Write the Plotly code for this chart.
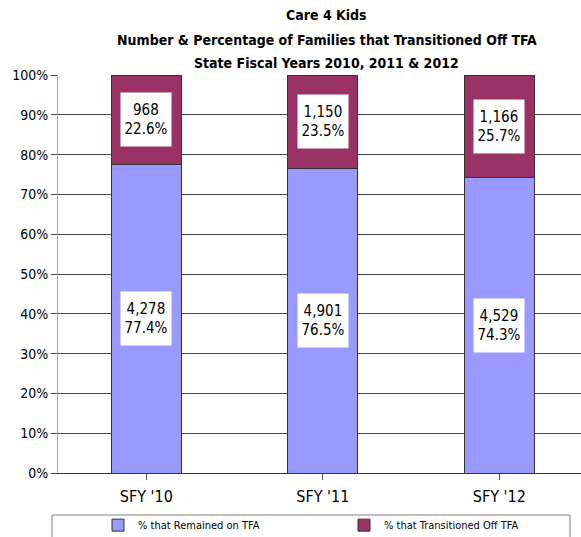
import plotly.graph_objects as go

categories = ["SFY '10", "SFY '11", "SFY '12"]
remained_pct = [77.4, 76.5, 74.3]
transitioned_pct = [22.6, 23.5, 25.7]
remained_cnt = ["4,278", "4,901", "4,529"]
transitioned_cnt = ["968", "1,150", "1,166"]
series_names = ["% that Remained on TFA", "% that Transitioned Off TFA"]
y_ticks = [0, 10, 20, 30, 40, 50, 60, 70, 80, 90, 100]
y_tick_text = [f"{v}%" for v in y_ticks]
title_lines = ["Care 4 Kids",
               "Number & Percentage of Families that Transitioned Off TFA",
               "State Fiscal Years 2010, 2011 & 2012"]

FONT = "DejaVu Sans Condensed, Liberation Sans Narrow, Arial Narrow, Liberation Sans, sans-serif"
xs = [0, 1, 2]

fig = go.Figure()
fig.add_trace(go.Bar(x=xs, y=remained_pct, name=series_names[0], width=0.397,
                     marker=dict(color="#9999FF", line=dict(color="#333333", width=1))))
fig.add_trace(go.Bar(x=xs, y=transitioned_pct, name=series_names[1], width=0.397,
                     marker=dict(color="#993366", line=dict(color="#333333", width=1))))

anns = []
box = dict(showarrow=False, bgcolor="white", borderpad=2, width=46, height=49,
           font=dict(size=15, color="black", family=FONT), xref="x", yref="y")
for i in range(3):
    anns.append(dict(x=xs[i], y=remained_pct[i] / 2,
                     text=f"{remained_cnt[i]}<br>{remained_pct[i]}%", **box))
    anns.append(dict(x=xs[i], y=remained_pct[i] + transitioned_pct[i] / 2,
                     text=f"{transitioned_cnt[i]}<br>{transitioned_pct[i]}%", **box))

title_y = [1.1508, 1.0879, 1.0302]
for line, ty in zip(title_lines, title_y):
    anns.append(dict(x=0.514, y=ty, xref="paper", yref="paper", xanchor="center", yanchor="middle",
                     text=f"<b>{line}</b>", showarrow=False,
                     font=dict(size=14, family=FONT, color="black")))

fig.update_layout(
    barmode="stack",
    width=581, height=537,
    margin=dict(l=58, r=0, t=75, b=64, autoexpand=False),
    paper_bgcolor="white", plot_bgcolor="white",
    font=dict(family=FONT, color="black"),
    xaxis=dict(range=[-0.5, 2.463], tickvals=xs, ticktext=categories, automargin=False,
               tickfont=dict(size=16, family=FONT), showline=True, linecolor="#333333",
               ticks="outside", ticklen=6, tickcolor="#555555", tickson="boundaries",
               ticklabelstandoff=3, showgrid=False),
    yaxis=dict(range=[0, 100], tickvals=y_ticks, ticktext=y_tick_text, automargin=False,
               tickfont=dict(size=14, family=FONT),
               showline=True, linecolor="#A6A6A6", ticks="outside", ticklen=6, tickcolor="#444444",
               showgrid=True, gridcolor="#444444", gridwidth=1, zeroline=False),
    showlegend=True,
    legend=dict(orientation="h", x=0.0765, xanchor="left", y=-0.131, yanchor="middle",
                traceorder="normal",
                font=dict(size=11, family=FONT), entrywidth=201, itemwidth=30,
                bgcolor="rgba(0,0,0,0)"),
    annotations=anns,
    shapes=[dict(type="rect", xref="paper", yref="paper", x0=-0.0115, x1=0.979,
                 y0=-0.17, y1=-0.1055, line=dict(color="#808080", width=1))],
)

fig.write_html("out.html", config={"displayModeBar": False},
               post_script="document.body.style.margin='0';")
